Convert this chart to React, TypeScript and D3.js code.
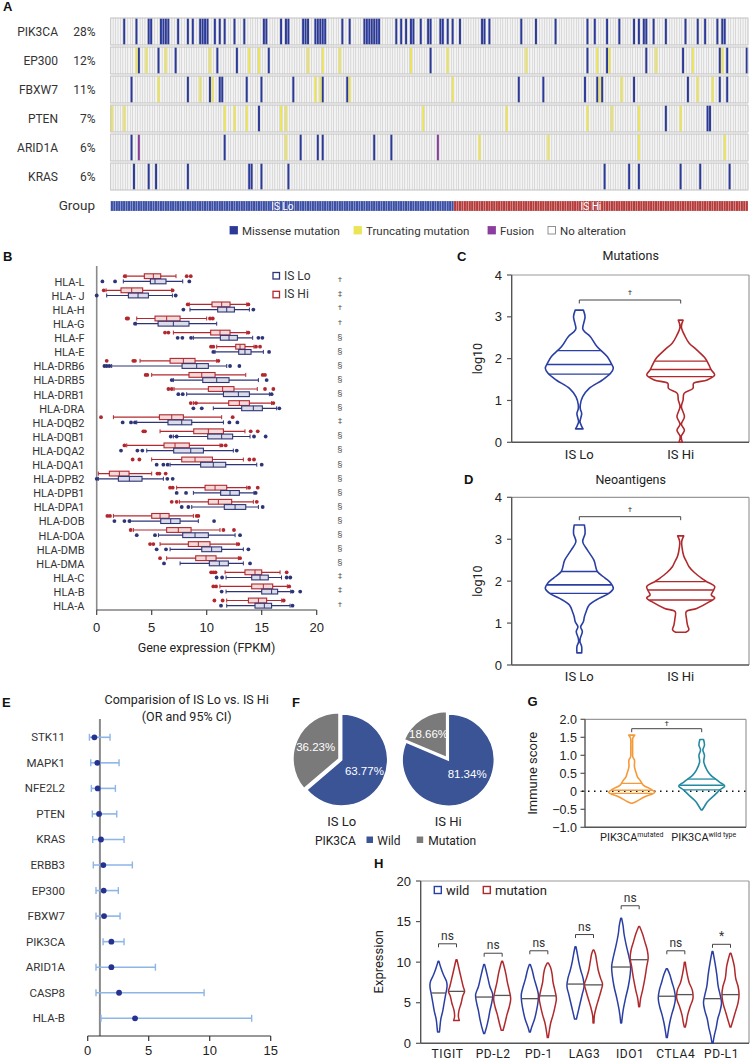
import React, { useEffect } from "react";
import * as d3 from "d3";

const FONT = "Roboto, 'Liberation Sans', Arial, sans-serif";
const NUM = "'Liberation Sans', Arial, sans-serif";

// ---------------- Panel A: oncoprint ----------------
const oncoGenes = ["PIK3CA", "EP300", "FBXW7", "PTEN", "ARID1A", "KRAS"];
const oncoPct = ["28%", "12%", "11%", "7%", "6%", "6%"];
const nSamples = 260;
const nLo = 140;
const missense: number[][] = [
  [5, 10, 15, 16, 20, 21, 22, 23, 27, 31, 33, 36, 37, 38, 39, 42, 44, 46, 50, 54, 62, 63, 69, 71, 72, 78, 79, 80, 83, 84, 85, 86, 87, 94, 97, 103, 104, 105, 106, 107, 108, 109, 116, 118, 120, 122, 123, 126, 129, 130, 134, 135, 137, 139, 142, 151, 152, 154, 167, 173, 181, 194, 197, 202, 207, 213, 215, 217, 218, 221, 226, 234, 239, 242, 247, 249, 250],
  [11, 19, 26, 43, 51, 64, 130, 194, 202, 218, 233, 248, 251, 259],
  [8, 31, 40, 44, 45, 55, 61, 74, 86, 96, 166, 176, 193, 198, 200, 213, 235, 248, 251],
  [60, 226, 243, 244],
  [8, 46, 77, 84, 86, 107, 114],
  [9, 15, 18, 31, 56, 57, 61, 72, 201, 211, 215, 232, 240, 252],
];
const truncating: number[][] = [
  [],
  [10, 14, 22, 40, 56, 60, 80, 86, 93, 122, 137, 169, 198, 203, 222, 237, 249],
  [19, 36, 41, 83, 85, 97, 139, 199, 208, 239, 245],
  [0, 5, 46, 50, 55, 69, 71, 127, 161, 194, 204, 215, 232],
  [71, 150, 178, 215, 250],
  [],
];
const fusion: number[][] = [[], [], [], [], [11, 133], []];
const alterationLabels = ["Missense mutation", "Truncating mutation", "Fusion", "No alteration"];
const alterationColors = ["#2b3a99", "#ece456", "#8b3e9d", "#ffffff"];
const groupLabels = ["IS Lo", "IS Hi"];

// ---------------- Panel B: HLA boxplots ----------------
const hlaGenes = ["HLA-L", "HLA- J", "HLA-H", "HLA-G", "HLA-F", "HLA-E", "HLA-DRB6", "HLA-DRB5", "HLA-DRB1", "HLA-DRA", "HLA-DQB2", "HLA-DQB1", "HLA-DQA2", "HLA-DQA1", "HLA-DPB2", "HLA-DPB1", "HLA-DPA1", "HLA-DOB", "HLA-DOA", "HLA-DMB", "HLA-DMA", "HLA-C", "HLA-B", "HLA-A"];
const hlaSig = ["†", "‡", "†", "†", "§", "§", "§", "§", "§", "§", "‡", "§", "§", "§", "§", "§", "§", "§", "§", "§", "§", "‡", "‡", "†"];
// [whiskerLow, Q1, median, Q3, whiskerHigh]
const hiStats = [
  [2.67, 4.33, 5.15, 5.82, 7.21], [0.85, 2.21, 3.18, 4.18, 6.82], [8.42, 10.48, 11.36, 12.12, 13.64], [3.64, 5.3, 6.36, 7.58, 10.0],
  [6.97, 10.36, 11.21, 12.12, 13.64], [10.91, 12.64, 13.03, 13.48, 14.3], [3.94, 6.67, 7.88, 8.94, 10.91], [5.0, 8.39, 9.55, 10.76, 13.55],
  [7.03, 10.15, 11.45, 12.48, 14.6], [8.79, 12.0, 12.97, 13.88, 15.9], [1.52, 5.7, 6.82, 7.88, 11.36], [5.76, 8.82, 10.15, 11.52, 13.48],
  [2.73, 6.12, 7.12, 8.42, 11.21], [5.0, 7.73, 8.94, 10.52, 13.33], [0.15, 1.15, 2.06, 2.94, 5.0], [7.27, 9.85, 10.76, 11.82, 13.64],
  [7.52, 10.15, 11.06, 12.27, 14.24], [1.52, 5.0, 5.76, 6.58, 8.79], [3.33, 6.36, 7.42, 8.58, 11.21], [5.76, 8.33, 9.24, 10.3, 12.73],
  [6.36, 9.0, 9.94, 10.85, 12.88], [11.67, 13.48, 14.39, 15.0, 16.67], [11.2, 14.09, 15.15, 16.0, 17.33], [11.82, 13.79, 14.7, 15.45, 16.82],
];
const hiOut = [
  [2.55, 8.18, 8.55], [0.64, 6.9], [8.27, 13.79], [2.73, 2.85, 10.3, 10.55], [6.21, 6.52, 13.79], [10.39, 10.6, 14.48, 14.85],
  [0.91, 3.33, 3.48, 11.06], [4.45, 4.6, 15.09, 15.3], [6.52, 6.82, 15.3, 16.06], [8.55, 9.03, 16.06], [0.39, 12.36], [4.24, 4.39, 14.0, 14.64],
  [2.52, 11.36, 11.73], [3.27, 3.88, 13.88, 14.3], [5.52, 5.7, 6.27], [6.67, 6.91, 13.85, 14.64], [6.82, 7.27, 14.55], [0.97, 1.21, 9.09, 9.24],
  [3.09, 11.52, 12.48], [4.85, 5.15, 12.88], [5.76, 13.03], [10.4, 10.6, 10.8, 17.27], [10.6, 10.85, 17.5], [10.7, 11.45, 17.0],
];
const loStats = [
  [2.42, 4.88, 5.3, 6.3, 7.82], [0.91, 2.88, 3.76, 4.7, 6.88], [8.48, 11.0, 11.82, 12.52, 13.88], [3.58, 5.58, 6.97, 8.39, 10.91],
  [8.79, 11.24, 12.03, 12.79, 14.18], [10.76, 12.91, 13.48, 14.03, 15.15], [1.36, 7.76, 9.09, 10.15, 11.82], [6.97, 9.64, 10.91, 12.03, 14.7],
  [8.18, 11.52, 12.88, 13.88, 15.7], [10.6, 13.18, 14.24, 15.06, 16.36], [3.64, 6.48, 7.73, 8.64, 11.52], [6.97, 10.09, 11.36, 12.36, 13.94],
  [4.55, 7.0, 8.55, 9.7, 12.42], [6.67, 9.45, 10.6, 11.73, 14.55], [0.15, 1.97, 2.97, 4.12, 6.06], [8.79, 11.27, 12.12, 12.97, 14.3],
  [8.64, 11.6, 12.58, 13.55, 14.7], [3.03, 5.82, 6.73, 7.58, 9.24], [5.61, 7.82, 8.94, 10.15, 12.58], [6.67, 9.55, 10.45, 11.36, 13.33],
  [7.58, 10.24, 11.15, 11.97, 13.33], [11.76, 14.09, 14.85, 15.6, 16.8], [11.76, 15.0, 15.9, 16.45, 17.64], [11.82, 14.39, 15.24, 15.9, 17.58],
];
const loOut = [
  [0.52, 1.67, 8.42], [0.0, 7.18], [7.88, 14.24], [3.48], [7.36, 7.79, 8.58, 14.7, 15.06], [10.6, 15.67],
  [0.7, 0.91, 1.15, 12.12, 12.97], [6.82, 15.45], [7.42, 7.82, 15.9], [8.79, 9.55, 16.6], [2.36, 3.12, 3.48, 12.06, 12.79], [6.73, 7.27, 14.3, 15.36],
  [2.21, 3.7, 4.15, 12.73], [5.45, 6.06, 6.45, 15.0], [0.0, 6.42, 6.91], [7.27, 8.12, 14.45], [7.73, 8.33, 15.09], [1.61, 2.52, 2.97, 10.67],
  [3.64, 5.3, 13.03], [5.45, 6.3, 13.79], [6.12, 13.94], [10.9, 11.4, 17.27, 17.6], [11.36, 17.8, 18.5], [11.3, 17.8],
];
const bTicks = [0, 5, 10, 15, 20];

// ---------------- Panels C / D: violins [value, relative density] ----------------
const mutLoProfile: [number, number][] = [[0.32, 0.11], [0.4, 0.06], [0.49, 0.02], [0.6, 0.05], [0.69, 0.07], [0.8, 0.03], [0.9, 0.03], [1.09, 0.1], [1.29, 0.29], [1.49, 0.68], [1.65, 0.92], [1.77, 1.0], [1.9, 0.93], [2.05, 0.82], [2.29, 0.52], [2.53, 0.32], [2.65, 0.15], [2.72, 0.1], [2.85, 0.13], [3.0, 0.17], [3.16, 0.12]];
const mutHiProfile: [number, number][] = [[0.0, 0.05], [0.14, 0.015], [0.29, 0.11], [0.43, 0.02], [0.61, 0.11], [0.85, 0.02], [1.01, 0.07], [1.17, 0.1], [1.29, 0.36], [1.41, 0.38], [1.49, 0.78], [1.61, 1.0], [1.73, 0.9], [1.85, 0.83], [2.01, 0.72], [2.21, 0.47], [2.37, 0.25], [2.53, 0.13], [2.76, 0.02], [2.92, 0.07]];
const mutLoQuart = [1.63, 1.86, 2.19];
const mutHiQuart = [1.57, 1.74, 1.94];
const neoLoProfile: [number, number][] = [[0.29, 0.07], [0.44, 0.07], [0.55, 0.02], [0.64, 0.03], [0.8, 0.09], [0.91, 0.04], [1.03, 0.12], [1.15, 0.15], [1.27, 0.2], [1.43, 0.29], [1.59, 0.58], [1.71, 0.87], [1.83, 1.0], [1.95, 0.93], [2.08, 0.75], [2.23, 0.53], [2.5, 0.43], [2.74, 0.24], [2.94, 0.1], [3.14, 0.17], [3.34, 0.15]];
const neoHiProfile: [number, number][] = [[0.78, 0.15], [0.84, 0.24], [0.95, 0.2], [1.11, 0.17], [1.27, 0.16], [1.35, 0.47], [1.51, 0.85], [1.6, 1.0], [1.67, 0.9], [1.79, 0.97], [1.87, 1.0], [1.99, 0.76], [2.05, 0.65], [2.2, 0.41], [2.35, 0.24], [2.45, 0.18], [2.6, 0.09], [2.8, 0.04], [2.95, 0.03], [3.08, 0.09]];
const neoLoQuart = [1.71, 1.91, 2.23];
const neoHiQuart = [1.55, 1.79, 1.99];
const cdGroups = ["IS Lo", "IS Hi"];
const cdTicks = [0, 1, 2, 3, 4];

// ---------------- Panel E: forest ----------------
const forestGenes = ["STK11", "MAPK1", "NFE2L2", "PTEN", "KRAS", "ERBB3", "EP300", "FBXW7", "PIK3CA", "ARID1A", "CASP8", "HLA-B"];
const forestOR = [0.55, 0.79, 0.82, 0.93, 1.09, 1.28, 1.31, 1.34, 1.94, 1.94, 2.57, 3.88];
const forestLow = [0.14, 0.25, 0.3, 0.38, 0.41, 0.46, 0.68, 0.68, 1.26, 0.68, 0.68, 1.09];
const forestHigh = [1.83, 2.57, 2.27, 2.38, 2.98, 3.66, 2.51, 2.65, 2.98, 5.55, 9.54, 13.44];
const eTicks = [0, 5, 10, 15];

// ---------------- Panel F: pies ----------------
const pieGroups = ["IS Lo", "IS Hi"];
const pieWild = [63.77, 81.34];
const pieMut = [36.23, 18.66];

// ---------------- Panel G: immune score violins ----------------
const gMutProfile: [number, number][] = [[-0.33, 0.02], [-0.29, 0.18], [-0.15, 0.57], [-0.03, 1.0], [0.06, 0.83], [0.17, 0.5], [0.31, 0.36], [0.4, 0.25], [0.5, 0.2], [0.68, 0.12], [0.87, 0.12], [0.95, 0.05], [1.1, 0.04], [1.3, 0.04], [1.48, 0.05], [1.56, 0.13]];
const gWildProfile: [number, number][] = [[-0.52, 0.02], [-0.43, 0.11], [-0.29, 0.25], [-0.1, 0.57], [0.04, 0.79], [0.15, 1.0], [0.25, 0.79], [0.34, 0.61], [0.45, 0.39], [0.59, 0.23], [0.82, 0.09], [1.0, 0.12], [1.15, 0.05], [1.28, 0.12], [1.44, 0.08]];
const gMutQuart = [-0.06, 0.03, 0.22];
const gWildQuart = [0.04, 0.17, 0.34];
const gTicks = [-1, -0.5, 0, 0.5, 1, 1.5, 2];

// ---------------- Panel H: checkpoint violins ----------------
const hCats = ["TIGIT", "PD-L2", "PD-1", "LAG3", "IDO1", "CTLA4", "PD-L1"];
const hWild: [number, number][][] = [
  [[1.4, 0.1], [2.0, 0.15], [3.0, 0.25], [4.0, 0.45], [5.0, 0.6], [6.0, 0.75], [7.0, 0.9], [7.6, 0.85], [8.5, 0.5], [9.3, 0.25], [10.1, 0.05]],
  [[1.2, 0.05], [2.0, 0.25], [3.0, 0.45], [4.0, 0.6], [5.0, 0.8], [6.0, 0.9], [7.0, 0.6], [8.0, 0.4], [9.0, 0.2], [9.7, 0.05]],
  [[1.4, 0.05], [2.0, 0.2], [3.0, 0.5], [4.0, 0.7], [5.0, 0.85], [6.0, 0.9], [7.0, 0.7], [8.0, 0.45], [9.0, 0.25], [9.7, 0.05]],
  [[3.0, 0.1], [4.0, 0.3], [5.0, 0.5], [6.0, 0.7], [7.0, 0.9], [8.0, 0.8], [9.0, 0.55], [10.0, 0.35], [11.0, 0.2], [11.9, 0.05]],
  [[2.5, 0.05], [4.0, 0.2], [5.5, 0.45], [7.0, 0.75], [8.5, 0.95], [9.5, 1.0], [10.5, 0.85], [12.0, 0.55], [13.5, 0.3], [14.5, 0.2], [15.4, 0.05]],
  [[0.7, 0.05], [1.5, 0.15], [2.5, 0.3], [3.5, 0.5], [4.5, 0.75], [5.5, 0.9], [6.5, 0.8], [7.5, 0.55], [8.5, 0.3], [9.2, 0.05]],
  [[0.0, 0.05], [1.0, 0.2], [2.0, 0.4], [3.0, 0.55], [4.0, 0.8], [5.0, 0.95], [6.0, 0.8], [7.0, 0.6], [8.5, 0.45], [10.0, 0.25], [11.3, 0.05]],
];
const hMut: [number, number][][] = [
  [[2.8, 0.3], [3.3, 0.2], [4.0, 0.25], [5.0, 0.5], [5.8, 0.65], [6.4, 0.85], [7.0, 0.7], [8.0, 0.5], [9.0, 0.3], [10.3, 0.05]],
  [[1.6, 0.1], [2.5, 0.3], [3.5, 0.5], [4.5, 0.75], [5.5, 0.9], [6.5, 0.75], [7.5, 0.55], [8.5, 0.4], [9.5, 0.2], [10.1, 0.05]],
  [[0.7, 0.05], [1.5, 0.15], [2.5, 0.3], [3.5, 0.55], [4.5, 0.75], [5.5, 0.9], [6.5, 0.75], [7.5, 0.55], [8.5, 0.45], [9.3, 0.3], [9.9, 0.05]],
  [[2.5, 0.05], [3.5, 0.1], [4.5, 0.3], [5.5, 0.55], [6.5, 0.8], [7.3, 0.95], [8.0, 0.75], [9.0, 0.5], [10.0, 0.35], [11.0, 0.2], [11.5, 0.05]],
  [[4.5, 0.05], [5.5, 0.15], [6.5, 0.35], [8.0, 0.6], [9.5, 0.8], [10.5, 0.95], [11.5, 0.85], [12.5, 0.6], [13.5, 0.35], [14.4, 0.05]],
  [[2.0, 0.05], [2.5, 0.15], [3.5, 0.3], [4.5, 0.55], [5.5, 0.85], [6.5, 0.8], [7.5, 0.45], [8.5, 0.25], [9.5, 0.1], [10.0, 0.05]],
  [[2.0, 0.05], [3.0, 0.3], [4.0, 0.55], [5.0, 0.8], [6.0, 0.9], [7.0, 0.8], [8.0, 0.55], [9.5, 0.4], [10.5, 0.2], [11.1, 0.05]],
];
const hWildMed = [6.2, 5.7, 5.5, 7.3, 9.4, 5.8, 5.5];
const hMutMed = [6.4, 5.9, 5.85, 7.2, 10.3, 6.0, 6.0];
const hSigAt = [12.26, 11.1, 11.4, 13.4, 16.95, 11.4, 12.2];
const hSigLabel = ["ns", "ns", "ns", "ns", "ns", "ns", "*"];
const hTicks = [0, 5, 10, 15, 20];

// ---------------- colors ----------------
const LO = "#2d3577";
const HI = "#b3282e";
const VBLUE = "#2a3fa3";
const VRED = "#b02a2d";

type Prof = [number, number][];

function Violin({ profile, cx, y, w, color, quart, medColor, sw = 1.6 }: { profile: Prof; cx: number; y: (v: number) => number; w: number; color: string; quart?: number[]; medColor?: string; sw?: number }) {
  const area = d3
    .area<[number, number]>()
    .y((d) => y(d[0]))
    .x0((d) => cx - d[1] * w)
    .x1((d) => cx + d[1] * w)
    .curve(d3.curveCatmullRom.alpha(0.5));
  const dens = d3.scaleLinear().domain(profile.map((d) => d[0])).range(profile.map((d) => d[1])).clamp(true);
  return (
    <g>
      <path d={area(profile) || ""} fill="none" stroke={color} strokeWidth={sw} strokeLinejoin="round" />
      {(quart || []).map((q, i) => (
        <line key={i} x1={cx - dens(q) * w} x2={cx + dens(q) * w} y1={y(q)} y2={y(q)} stroke={medColor || color} strokeWidth={i === 1 && !medColor ? 1.6 : 1.3} />
      ))}
    </g>
  );
}

function Bracket({ x1, x2, y, label, size = 9, gap = 5 }: { x1: number; x2: number; y: number; label: string; size?: number; gap?: number }) {
  return (
    <g>
      <path d={`M${x1},${y + 3.5}V${y}H${x2}V${y + 3.5}`} fill="none" stroke="#444" strokeWidth={1} />
      <text x={(x1 + x2) / 2} y={y - gap} textAnchor="middle" fontSize={size} fontFamily={FONT} fill="#333">
        {label}
      </text>
    </g>
  );
}

function PanelLabel({ x, y, t }: { x: number; y: number; t: string }) {
  return (
    <text x={x} y={y} fontSize={13} fontWeight="bold" fontFamily={NUM} fill="#111">
      {t}
    </text>
  );
}

export default function App() {
  useEffect(() => {
    document.body.style.margin = "0";
  }, []);

  // ----- A scales
  const xA = d3.scaleBand<number>().domain(d3.range(nSamples)).range([110.7, 748]);
  const yA = d3.scaleBand<string>().domain(oncoGenes).range([18, 190]).paddingInner(0.07);
  const bw = xA.bandwidth();

  // ----- B scales
  const xB = d3.scaleLinear().domain([0, 20]).range([96.7, 316.7]);
  const yB = d3.scalePoint<string>().domain(hlaGenes).range([281.7, 606]);

  // ----- C/D scales
  const xCD = d3.scalePoint<string>().domain(cdGroups).range([579.3, 680.7]);
  const yC = d3.scaleLinear().domain([0, 4]).range([442.3, 275]);
  const yD = d3.scaleLinear().domain([0, 4]).range([665, 497.3]);

  // ----- E
  const xE = d3.scaleLinear().domain([0, 15]).range([87.7, 270.7]);
  const yE = d3.scalePoint<string>().domain(forestGenes).range([737.3, 1018.3]);

  // ----- F
  const pieCx = d3.scalePoint<string>().domain(pieGroups).range([341.7, 448.3]);
  const pie = d3.pie<number>().sort(null).value((d) => d);
  const R = 46;
  const arc = d3.arc<d3.PieArcDatum<number>>().innerRadius(0).outerRadius(R);

  // ----- G
  const yG = d3.scaleLinear().domain([-1, 2]).range([827.3, 719.3]);
  const gx = [631.7, 701.7];

  // ----- H
  const xH = d3.scalePoint<string>().domain(hCats).range([447.5, 721.5]);
  const yH = d3.scaleLinear().domain([0, 20]).range([1043.3, 881]);

  const CDFrame = ({ y, top, bottom, title, titleY, labelY, ylab }: any) => (
    <g>
      <text x={630.7} y={titleY} textAnchor="middle" fontSize={12.5} fontFamily={FONT} fill="#222">{title}</text>
      <line x1={511.7} x2={749} y1={top} y2={top} stroke="#999" strokeWidth={1.2} />
      <line x1={749} x2={749} y1={top} y2={bottom} stroke="#999" strokeWidth={1.2} />
      <line x1={511.7} x2={749} y1={bottom} y2={bottom} stroke="#555" strokeWidth={1.4} />
      <line x1={511.7} x2={511.7} y1={top} y2={bottom} stroke="#555" strokeWidth={1.4} />
      {cdTicks.map((t) => (
        <g key={t}>
          <line x1={507} x2={511.7} y1={y(t)} y2={y(t)} stroke="#555" strokeWidth={1.2} />
          <text x={502} y={y(t) + 4.5} textAnchor="end" fontSize={13} fontFamily={NUM} fill="#222">{t}</text>
        </g>
      ))}
      <text transform={`translate(482,${(top + bottom) / 2}) rotate(-90)`} textAnchor="middle" fontSize={12.5} fontFamily={FONT} fill="#222">{ylab}</text>
      {cdGroups.map((g) => (
        <text key={g} x={xCD(g)} y={labelY} textAnchor="middle" fontSize={13} fontFamily={FONT} fill="#222">{g}</text>
      ))}
    </g>
  );

  return (
    <div style={{ position: "absolute", left: 0, top: 0 }}>
      <svg width={752} height={1059} style={{ display: "block", background: "#fff" }}>
        {/* ================= A ================= */}
        <PanelLabel x={3} y={11} t="A" />
        {oncoGenes.map((g, gi) => {
          const y0 = yA(g)!;
          const h = yA.bandwidth();
          return (
            <g key={g}>
              <text x={58} y={y0 + h / 2 + 4.5} textAnchor="end" fontSize={12} fontFamily={FONT} fill="#333">{g}</text>
              <text x={95.5} y={y0 + h / 2 + 4.5} textAnchor="end" fontSize={12} fontFamily={FONT} fill="#333">{oncoPct[gi]}</text>
              {d3.range(nSamples).map((i) => (
                <rect key={i} x={xA(i)} y={y0} width={bw} height={h} fill="#f3f3f3" stroke="#c8c8c8" strokeWidth={0.45} />
              ))}
              {missense[gi].map((i) => (
                <rect key={"m" + i} x={xA(i)! + 0.25} y={y0 + 0.5} width={bw - 0.5} height={h - 1} fill={alterationColors[0]} />
              ))}
              {truncating[gi].map((i) => (
                <rect key={"t" + i} x={xA(i)! + 0.25} y={y0 + 0.5} width={bw - 0.5} height={h - 1} fill={alterationColors[1]} />
              ))}
              {fusion[gi].map((i) => (
                <rect key={"f" + i} x={xA(i)! + 0.25} y={y0 + 0.5} width={bw - 0.5} height={h - 1} fill={alterationColors[2]} />
              ))}
              <rect x={110.7} y={y0} width={748 - 110.7} height={h} fill="none" stroke="#c4c4c4" strokeWidth={0.8} />
            </g>
          );
        })}
        <text x={95} y={210} textAnchor="end" fontSize={13.5} fontFamily={FONT} fill="#333">Group</text>
        {d3.range(nSamples).map((i) => (
          <rect key={"g" + i} x={xA(i)} y={201} width={bw} height={10} fill={i < nLo ? "#3b4ea6" : "#b53b3b"} stroke="#ffffff" strokeOpacity={0.35} strokeWidth={0.5} />
        ))}
        <text x={(xA(0)! + xA(nLo - 1)! + bw) / 2} y={209.5} textAnchor="middle" fontSize={10} fontFamily={FONT} fill="#fff">{groupLabels[0]}</text>
        <text x={(xA(nLo)! + xA(nSamples - 1)! + bw) / 2 - 10} y={209.5} textAnchor="middle" fontSize={10} fontFamily={FONT} fill="#fff">{groupLabels[1]}</text>
        {alterationLabels.map((l, i) => {
          const xs = [230, 354, 488, 548][i];
          return (
            <g key={l}>
              <rect x={xs} y={226.5} width={7.5} height={7.5} fill={alterationColors[i]} stroke={i === 3 ? "#777" : alterationColors[i]} strokeWidth={0.8} />
              <text x={xs + 12} y={234.5} fontSize={11.5} fontFamily={FONT} fill="#333">{l}</text>
            </g>
          );
        })}

        {/* ================= B ================= */}
        <PanelLabel x={3} y={261} t="B" />
        <line x1={xB(0)} x2={xB(0)} y1={266} y2={610} stroke="#8a8a8a" strokeWidth={1.6} />
        <line x1={xB(0)} x2={xB(20)} y1={610} y2={610} stroke="#444" strokeWidth={1.2} />
        {bTicks.map((t) => (
          <g key={t}>
            <line x1={xB(t)} x2={xB(t)} y1={610} y2={615} stroke="#444" strokeWidth={1.2} />
            <text x={xB(t)} y={631.5} textAnchor="middle" fontSize={13} fontFamily={NUM} fill="#222">{t}</text>
          </g>
        ))}
        <text x={206.5} y={652} textAnchor="middle" fontSize={12.5} fontFamily={FONT} fill="#222">Gene expression (FPKM)</text>
        {hlaGenes.map((g, i) => {
          const yc = yB(g)!;
          const sets = [
            { s: hiStats[i], o: hiOut[i], dy: -5.5, c: HI, f: "#f2dada" },
            { s: loStats[i], o: loOut[i], dy: -0.3, c: LO, f: "#dcdce8" },
          ];
          return (
            <g key={g}>
              <text x={84.5} y={yc + 4} textAnchor="end" fontSize={11} fontFamily={FONT} fill="#333">{g}</text>
              <text x={340} y={yc + 0.5} textAnchor="middle" fontSize={8} fontFamily={FONT} fill="#555">{hlaSig[i]}</text>
              {sets.map((st, k) => {
                const yy = yc + st.dy;
                const [wl, q1, md, q3, wh] = st.s;
                return (
                  <g key={k}>
                    <line x1={xB(wl)} x2={xB(wh)} y1={yy} y2={yy} stroke={st.c} strokeWidth={1.2} />
                    <line x1={xB(wl)} x2={xB(wl)} y1={yy - 2} y2={yy + 2} stroke={st.c} strokeWidth={1} />
                    <line x1={xB(wh)} x2={xB(wh)} y1={yy - 2} y2={yy + 2} stroke={st.c} strokeWidth={1} />
                    <rect x={xB(q1)} y={yy - 2.4} width={xB(q3) - xB(q1)} height={4.8} fill={st.f} stroke={st.c} strokeWidth={1.1} />
                    <line x1={xB(md)} x2={xB(md)} y1={yy - 2.4} y2={yy + 2.4} stroke={st.c} strokeWidth={1} />
                    {st.o.map((v, j) => (
                      <circle key={j} cx={xB(v)} cy={yy} r={1.9} fill={st.c} />
                    ))}
                  </g>
                );
              })}
            </g>
          );
        })}
        <rect x={273} y={272.5} width={6.5} height={6.5} fill="none" stroke={LO} strokeWidth={1.3} />
        <text x={284} y={279.5} fontSize={12} fontFamily={FONT} fill="#333">IS Lo</text>
        <rect x={273} y={291.3} width={6.5} height={6.5} fill="none" stroke={HI} strokeWidth={1.3} />
        <text x={284} y={298.3} fontSize={12} fontFamily={FONT} fill="#333">IS Hi</text>

        {/* ================= C ================= */}
        <PanelLabel x={457} y={261} t="C" />
        <CDFrame y={yC} top={275} bottom={442.3} title="Mutations" titleY={260} labelY={458.5} ylab="log10" />
        <Violin profile={mutLoProfile} cx={xCD("IS Lo")!} y={yC} w={34} color={VBLUE} quart={mutLoQuart} />
        <Violin profile={mutHiProfile} cx={xCD("IS Hi")!} y={yC} w={34} color={VRED} quart={mutHiQuart} />
        <Bracket x1={xCD("IS Lo")!} x2={xCD("IS Hi")!} y={300} label="†" size={8} gap={5} />

        {/* ================= D ================= */}
        <PanelLabel x={464} y={484} t="D" />
        <CDFrame y={yD} top={497.3} bottom={665} title="Neoantigens" titleY={484} labelY={680.5} ylab="log10" />
        <Violin profile={neoLoProfile} cx={xCD("IS Lo")!} y={yD} w={34} color={VBLUE} quart={neoLoQuart} />
        <Violin profile={neoHiProfile} cx={xCD("IS Hi")!} y={yD} w={34} color={VRED} quart={neoHiQuart} />
        <Bracket x1={xCD("IS Lo")!} x2={xCD("IS Hi")!} y={516.7} label="†" size={8} gap={5} />

        {/* ================= E ================= */}
        <PanelLabel x={2} y={706.5} t="E" />
        <text x={186.7} y={704} textAnchor="middle" fontSize={12.5} fontFamily={FONT} fill="#222">Comparision of IS Lo vs. IS Hi</text>
        <text x={186.7} y={721} textAnchor="middle" fontSize={12.5} fontFamily={FONT} fill="#222">(OR and 95% CI)</text>
        <line x1={xE(1)} x2={xE(1)} y1={719} y2={1036} stroke="#8a8a8a" strokeWidth={2} />
        <line x1={xE(0)} x2={xE(15)} y1={1036} y2={1036} stroke="#333" strokeWidth={1.2} />
        {eTicks.map((t) => (
          <g key={t}>
            <line x1={xE(t)} x2={xE(t)} y1={1036} y2={1041} stroke="#333" strokeWidth={1.2} />
            <text x={xE(t)} y={1055} textAnchor="middle" fontSize={13} fontFamily={NUM} fill="#222">{t}</text>
          </g>
        ))}
        {forestGenes.map((g, i) => {
          const yy = yE(g)!;
          return (
            <g key={g}>
              <text x={65} y={yy + 4} textAnchor="end" fontSize={11.5} fontFamily={FONT} fill="#333">{g}</text>
              <line x1={xE(forestLow[i])} x2={xE(forestHigh[i])} y1={yy} y2={yy} stroke="#8db5e6" strokeWidth={1.6} />
              <line x1={xE(forestLow[i])} x2={xE(forestLow[i])} y1={yy - 3.5} y2={yy + 3.5} stroke="#8db5e6" strokeWidth={1.4} />
              <line x1={xE(forestHigh[i])} x2={xE(forestHigh[i])} y1={yy - 3.5} y2={yy + 3.5} stroke="#8db5e6" strokeWidth={1.4} />
              <circle cx={xE(forestOR[i])} cy={yy} r={2.9} fill="#26328f" />
            </g>
          );
        })}

        {/* ================= F ================= */}
        <PanelLabel x={292} y={706.5} t="F" />
        {pieGroups.map((g, gi) => {
          const cx = pieCx(g)!;
          const cy = 760;
          const arcs = pie([pieWild[gi], pieMut[gi]]);
          return (
            <g key={g}>
              {arcs.map((a, k) => {
                const mid = (a.startAngle + a.endAngle) / 2;
                const off = k === 1 ? 3 : 0;
                const dx = Math.sin(mid) * off;
                const dy = -Math.cos(mid) * off;
                const lr = k === 1 ? 29 : 25;
                const lx = Math.sin(mid) * lr + (k === 1 ? 3 - gi * 5 : gi * 5);
                const ly = -Math.cos(mid) * lr - (k === 0 ? gi * 7 : 0);
                return (
                  <g key={k} transform={`translate(${cx + dx},${cy + dy})`}>
                    <path d={arc(a) || ""} fill={k === 0 ? "#3a5496" : "#7a7a7a"} stroke="#fff" strokeWidth={1.5} />
                    <text x={lx} y={ly + 4.5} textAnchor="middle" fontSize={11.5} fontFamily={NUM} fill="#fff">
                      {(k === 0 ? pieWild[gi] : pieMut[gi]).toFixed(2)}%
                    </text>
                  </g>
                );
              })}
              <text x={cx} y={826} textAnchor="middle" fontSize={13} fontFamily={FONT} fill="#222">{g}</text>
            </g>
          );
        })}
        <text x={315} y={845} fontSize={12} fontFamily={FONT} fill="#222">PIK3CA</text>
        <rect x={366.5} y={836.5} width={6.5} height={6.5} fill="#3a5496" />
        <text x={377.3} y={845} fontSize={12} fontFamily={FONT} fill="#222">Wild</text>
        <rect x={416.7} y={836.5} width={6.5} height={6.5} fill="#7a7a7a" />
        <text x={428.3} y={845} fontSize={12} fontFamily={FONT} fill="#222">Mutation</text>

        {/* ================= G ================= */}
        <PanelLabel x={527.5} y={706} t="G" />
        <line x1={585} x2={746} y1={719.3} y2={719.3} stroke="#999" strokeWidth={1.2} />
        <line x1={746} x2={746} y1={719.3} y2={827.3} stroke="#999" strokeWidth={1.2} />
        <line x1={585} x2={746} y1={827.3} y2={827.3} stroke="#555" strokeWidth={1.4} />
        <line x1={585} x2={585} y1={719.3} y2={827.3} stroke="#555" strokeWidth={1.4} />
        {gTicks.map((t) => (
          <g key={t}>
            <line x1={580.5} x2={585} y1={yG(t)} y2={yG(t)} stroke="#555" strokeWidth={1.2} />
            <text x={577} y={yG(t) + 4.5} textAnchor="end" fontSize={12.5} fontFamily={NUM} fill="#222">
              {t === 0 ? "0" : (t < 0 ? "\u2212" : "") + Math.abs(t).toFixed(1)}
            </text>
          </g>
        ))}
        <text transform={`translate(537,773.3) rotate(-90)`} textAnchor="middle" fontSize={13} fontFamily={FONT} fill="#222">Immune score</text>
        <line x1={582} x2={746} y1={yG(0)} y2={yG(0)} stroke="#111" strokeWidth={1.5} strokeDasharray="1.5,4.5" />
        <Violin profile={gMutProfile} cx={gx[0]} y={yG} w={23} color="#f59a3a" quart={gMutQuart} />
        <Violin profile={gWildProfile} cx={gx[1]} y={yG} w={23} color="#238aa0" quart={gWildQuart} />
        <Bracket x1={gx[0]} x2={gx[1]} y={728.7} label="†" size={8} gap={3} />
        <text x={gx[0]} y={841} textAnchor="middle" fontSize={11} fontFamily={FONT} fill="#222">
          PIK3CA<tspan fontSize={7} dy={-4}>mutated</tspan>
        </text>
        <text x={gx[1] + 2} y={841} textAnchor="middle" fontSize={11} fontFamily={FONT} fill="#222">
          PIK3CA<tspan fontSize={7} dy={-4}>wild type</tspan>
        </text>

        {/* ================= H ================= */}
        <PanelLabel x={374} y={867.7} t="H" />
        <line x1={420.7} x2={749} y1={881} y2={881} stroke="#999" strokeWidth={1.2} />
        <line x1={749} x2={749} y1={881} y2={1043.3} stroke="#999" strokeWidth={1.2} />
        <line x1={420.7} x2={749} y1={1043.3} y2={1043.3} stroke="#555" strokeWidth={1.4} />
        <line x1={420.7} x2={420.7} y1={881} y2={1043.3} stroke="#555" strokeWidth={1.4} />
        {hTicks.map((t) => (
          <g key={t}>
            <line x1={416} x2={420.7} y1={yH(t)} y2={yH(t)} stroke="#555" strokeWidth={1.2} />
            <text x={411} y={yH(t) + 4.5} textAnchor="end" fontSize={13} fontFamily={NUM} fill="#222">{t}</text>
          </g>
        ))}
        <text transform={`translate(383,961.7) rotate(-90)`} textAnchor="middle" fontSize={13} fontFamily={FONT} fill="#222">Expression</text>
        <rect x={434.3} y={886.5} width={7} height={7} fill="none" stroke={VBLUE} strokeWidth={1.4} />
        <text x={446} y={894.5} fontSize={13} fontFamily={FONT} fill="#222">wild</text>
        <rect x={483.3} y={886.5} width={7} height={7} fill="none" stroke={VRED} strokeWidth={1.4} />
        <text x={495} y={894.5} fontSize={13} fontFamily={FONT} fill="#222">mutation</text>
        {hCats.map((c, i) => {
          const cx = xH(c)!;
          return (
            <g key={c}>
              <Violin profile={hWild[i]} cx={cx - 9} y={yH} w={9.5} color={VBLUE} quart={[hWildMed[i]]} medColor="#555" sw={1.5} />
              <Violin profile={hMut[i]} cx={cx + 9} y={yH} w={9.5} color={VRED} quart={[hMutMed[i]]} medColor="#555" sw={1.5} />
              <Bracket x1={cx - 9} x2={cx + 9} y={yH(hSigAt[i])} label={hSigLabel[i]} size={12} gap={4} />
              <text x={cx} y={1057.5} textAnchor="middle" fontSize={12} fontFamily={FONT} fill="#222" letterSpacing={0.6}>{c}</text>
            </g>
          );
        })}
      </svg>
    </div>
  );
}
